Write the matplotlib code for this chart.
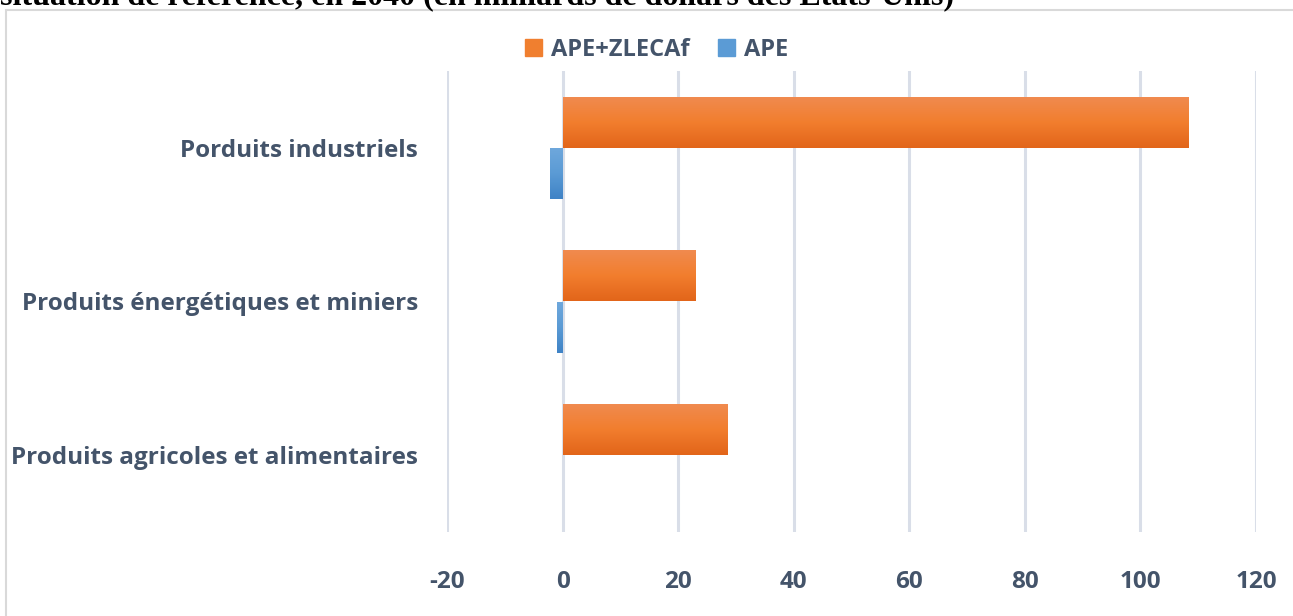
import matplotlib
matplotlib.use('Agg')
import matplotlib.pyplot as plt
from matplotlib.patches import Rectangle
from matplotlib.colors import LinearSegmentedColormap
import numpy as np

categories = ['Produits agricoles et alimentaires',
              'Produits énergétiques et miniers',
              'Porduits industriels']
ape_zlecaf = [28.4, 23.0, 108.3]
ape = [0.0, -1.0, -2.2]
series_names = ['APE+ZLECAf', 'APE']
xticks = [-20, 0, 20, 40, 60, 80, 100, 120]

text_col = '#44546A'
grid_col = '#D9DEE8'
orange_grad = LinearSegmentedColormap.from_list('o', ['#E2651A', '#F27E2E', '#F08B50'])
blue_grad = LinearSegmentedColormap.from_list('b', ['#3F83C6', '#5B9BD5', '#6FA8DC'])

plt.rcParams['font.family'] = ['Open Sans', 'DejaVu Sans']

fig = plt.figure(figsize=(12.93, 6.16), dpi=100)
ax = fig.add_axes([447 / 1293, 1 - 532 / 616, 809 / 1293, 461 / 616])

y = np.arange(len(categories))
h = 0.333


def grad_bar(ax, x0, width, yc, height, cmap):
    if width == 0:
        return
    left = min(x0, x0 + width)
    rect = Rectangle((left, yc - height / 2), abs(width), height,
                     facecolor='none', edgecolor='none')
    ax.add_patch(rect)
    grad = np.linspace(0, 1, 100).reshape(-1, 1)
    im = ax.imshow(grad, cmap=cmap, aspect='auto', origin='lower',
                   extent=(left, left + abs(width), yc - height / 2, yc + height / 2),
                   zorder=2)
    im.set_clip_path(rect)


for i in range(len(categories)):
    grad_bar(ax, 0, ape_zlecaf[i], y[i] + h / 2, h, orange_grad)
    grad_bar(ax, 0, ape[i], y[i] - h / 2, h, blue_grad)

ax.set_xlim(-20, 120)
ax.set_ylim(-0.5, len(categories) - 0.5)
ax.set_xticks(xticks)
ax.set_xticklabels([str(t) for t in xticks])
ax.set_yticks(y)
ax.set_yticklabels(categories)
ax.grid(axis='x', color=grid_col, linewidth=2.2, zorder=0)
ax.set_axisbelow(True)
for s in ax.spines.values():
    s.set_visible(False)
ax.tick_params(axis='both', length=0, colors=text_col, labelsize=17.5)
ax.tick_params(axis='x', pad=27)
ax.tick_params(axis='y', pad=21)
for lab in ax.get_xticklabels() + ax.get_yticklabels():
    lab.set_fontweight('bold')

handles = [Rectangle((0, 0), 1, 1, color='#F07F2F'),
           Rectangle((0, 0), 1, 1, color='#5B9BD5')]
fig.legend(handles, series_names, loc='center', bbox_to_anchor=(0.508, 0.919),
           ncol=2, frameon=False, handlelength=0.7, handleheight=0.7,
           handletextpad=0.4, columnspacing=1.2,
           prop={'weight': 'bold', 'size': 17}, labelcolor=text_col)

# chart border
fig.patches.append(Rectangle((6 / 1293, -0.01), 1.0, 1 - 10 / 616 + 0.01,
                             transform=fig.transFigure, fill=False,
                             edgecolor='#D9D9D9', linewidth=1.5))

# title cut off at the top of the image
fig.text(0.0, 1.0 - 5 / 616,
         "situation de référence, en 2040 (en milliards de dollars des États-Unis)",
         family='Liberation Serif', weight='bold', fontsize=23, va='baseline', ha='left')

fig.savefig('out.png', dpi=100)
